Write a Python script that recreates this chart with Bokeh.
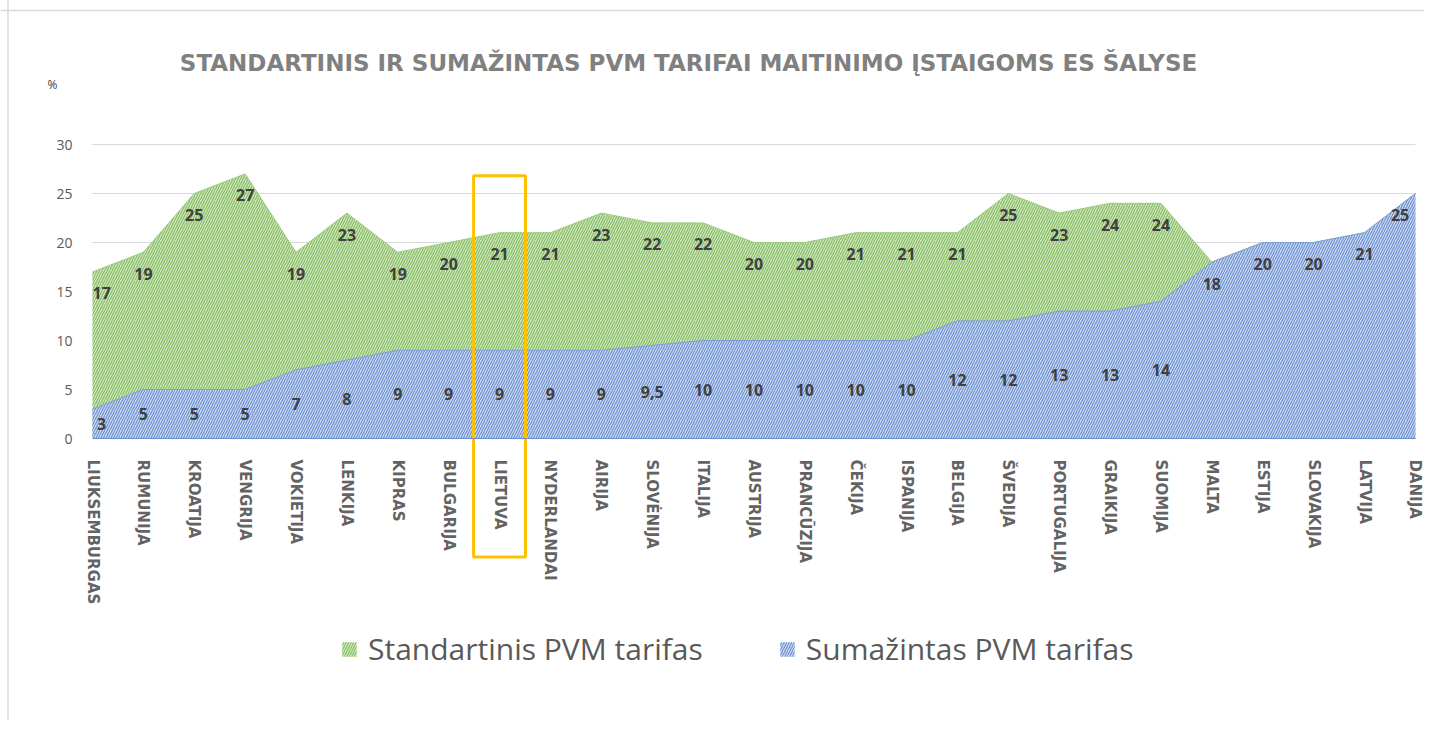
from bokeh.plotting import figure
from bokeh.models import (Range1d, LinearAxis, FixedTicker, Label, Span, ColumnDataSource)
from bokeh.embed import file_html
from bokeh.resources import INLINE
from bokeh.core.properties import value

# ---------------- data ----------------
categories = ["LIUKSEMBURGAS", "RUMUNIJA", "KROATIJA", "VENGRIJA", "VOKIETIJA", "LENKIJA",
              "KIPRAS", "BULGARIJA", "LIETUVA", "NYDERLANDAI", "AIRIJA", "SLOVĖNIJA",
              "ITALIJA", "AUSTRIJA", "PRANCŪZIJA", "ČEKIJA", "ISPANIJA", "BELGIJA",
              "ŠVEDIJA", "PORTUGALIJA", "GRAIKIJA", "SUOMIJA", "MALTA", "ESTIJA",
              "SLOVAKIJA", "LATVIJA", "DANIJA"]
standard = [17, 19, 25, 27, 19, 23, 19, 20, 21, 21, 23, 22, 22, 20, 20, 21, 21, 21,
            25, 23, 24, 24, 18, 20, 20, 21, 25]
reduced = [3, 5, 5, 5, 7, 8, 9, 9, 9, 9, 9, 9.5, 10, 10, 10, 10, 10, 12,
           12, 13, 13, 14, 18, 20, 20, 21, 25]
y_ticks = [0, 5, 10, 15, 20, 25, 30]
series_names = ["Standartinis PVM tarifas", "Sumažintas PVM tarifas"]
title_text = "STANDARTINIS IR SUMAŽINTAS PVM TARIFAI MAITINIMO ĮSTAIGOMS ES ŠALYSE"
unit_text = "%"
highlight = "LIETUVA"

# ---------------- layout helpers (canvas pixel -> data) ----------------
W, H = 1424, 720
X0_PX, X_STEP = 92.0, 50.88     # x pixel of first category, px per category
Y0_PX, Y_STEP = 438.0, 9.8      # y pixel of value 0, px per unit


def dx(px):
    return (px - X0_PX) / X_STEP


def dy(py):
    return (Y0_PX - py) / Y_STEP


def fmt(v):
    return f"{v:g}".replace(".", ",")


n = len(categories)
xs = list(range(n))


def label_x(i):
    # keep edge labels inside the plot area
    return min(max(i, 0.18), n - 1 - 0.3)


p = figure(width=W, height=H, output_backend="svg", toolbar_location=None,
           x_range=Range1d(dx(0), dx(W)), y_range=Range1d(dy(H), dy(0)),
           x_axis_location=None, y_axis_location=None, min_border=0,
           outline_line_color=None, background_fill_color="white",
           border_fill_color="white")
p.grid.visible = False

# gridlines
p.segment(x0=[0] * len(y_ticks), x1=[n - 1] * len(y_ticks),
          y0=y_ticks, y1=y_ticks, line_color="#d9d9d9", line_width=1)

# areas
p.varea(x=xs, y1=[0] * n, y2=standard, fill_color="#d3e8c4",
        hatch_pattern="/", hatch_color="#86bd62", hatch_scale=5, hatch_weight=1.2,
        legend_label=series_names[0])
p.line(xs, standard, line_color="#9ccb7c", line_width=1)
p.varea(x=xs, y1=[0] * n, y2=reduced, fill_color="#d3ddf2",
        hatch_pattern="/", hatch_color="#6a8fd2", hatch_scale=5, hatch_weight=1.2,
        legend_label=series_names[1])
p.line(xs, reduced, line_color="#7d9dd8", line_width=1)

# axes
xaxis = LinearAxis(ticker=FixedTicker(ticks=xs), bounds=(0, n - 1),
                   major_label_overrides={i: c for i, c in enumerate(categories)},
                   fixed_location=0, major_label_orientation="vertical",
                   axis_line_color="#6a8fd2", major_tick_line_color=None,
                   minor_tick_line_color=None, major_label_standoff=15,
                   major_label_text_font="DejaVu Sans",
                   major_label_text_font_style="bold",
                   major_label_text_font_size="15px",
                   major_label_text_color="#636363")
p.add_layout(xaxis, "below")

yaxis = LinearAxis(ticker=FixedTicker(ticks=y_ticks), fixed_location=dx(90),
                   axis_line_color=None, major_tick_line_color=None,
                   minor_tick_line_color=None, major_label_standoff=12,
                   major_label_text_font="Open Sans",
                   major_label_text_font_size="14px",
                   major_label_text_color="#595959")
p.add_layout(yaxis, "left")

# data labels
std_src = ColumnDataSource(dict(x=[label_x(i) for i in xs],
                                y=[v - 2.2 for v in standard],
                                t=[fmt(v) for v in standard]))
p.text(x="x", y="y", text="t", source=std_src, text_align="center",
       text_baseline="middle", text_font=value("Open Sans"),
       text_font_style="bold", text_font_size="16px", text_color="#404040")
ri = [i for i in xs if reduced[i] < standard[i]]
red_src = ColumnDataSource(dict(x=[label_x(i) for i in ri],
                                y=[reduced[i] / 2 for i in ri],
                                t=[fmt(reduced[i]) for i in ri]))
p.text(x="x", y="y", text="t", source=red_src, text_align="center",
       text_baseline="middle", text_font=value("Open Sans"),
       text_font_style="bold", text_font_size="16px", text_color="#404040")

# highlight box
hi = categories.index(highlight)
p.quad(left=[hi - 0.51], right=[hi + 0.51], top=[26.8], bottom=[-12.1],
       fill_color=None, line_color="#ffc000", line_width=3)

# title & unit
p.add_layout(Label(x=dx(688), y=dy(62), text=title_text, text_align="center",
                   text_baseline="middle", text_font="DejaVu Sans",
                   text_font_style="bold", text_font_size="23px",
                   text_color="#808080"))
p.add_layout(Label(x=dx(52), y=dy(84), text=unit_text, text_align="center",
                   text_baseline="middle", text_font="Open Sans",
                   text_font_size="12px", text_color="#404040"))

# chart border (top, left)
p.add_layout(Span(location=dy(10), dimension="width", line_color="#d9d9d9", line_width=1.5))
p.add_layout(Span(location=dx(7.5), dimension="height", line_color="#d9d9d9", line_width=1.5))

# legend
lg = p.legend[0]
lg.location = (340, 51)
lg.orientation = "horizontal"
lg.glyph_width = 18
lg.glyph_height = 18
lg.label_standoff = 10
lg.spacing = 75
lg.padding = 0
lg.margin = 0
lg.border_line_color = None
lg.background_fill_alpha = 0
lg.label_text_font = "Open Sans"
lg.label_text_font_size = "30px"
lg.label_text_color = "#595959"

open("out.html", "w").write(file_html(p, INLINE))
